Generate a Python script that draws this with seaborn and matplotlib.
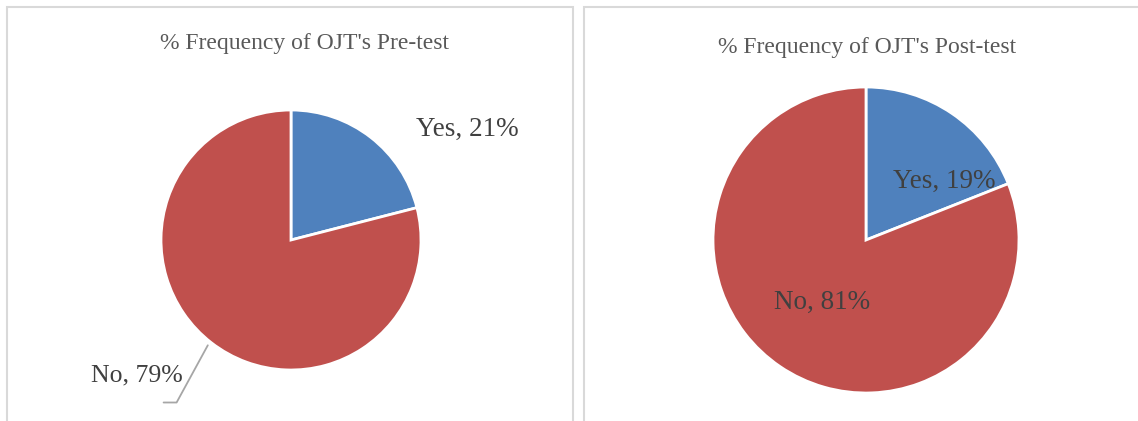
import matplotlib.pyplot as plt
import matplotlib.patches as mpatches
import seaborn as sns

categories = ["Yes", "No"]
pre_test = [21, 79]
post_test = [19, 81]
titles = ["% Frequency of OJT's Pre-test", "% Frequency of OJT's Post-test"]
colors = ["#4F81BD", "#C0504D"]

sns.set_theme(style="white")
plt.rcParams['font.family'] = ['Liberation Serif', 'DejaVu Serif']

W, H = 1138, 421
fig = plt.figure(figsize=(W / 100, H / 100), dpi=100)


def px_box(left, top, width, height):
    return [left / W, (H - top - height) / H, width / W, height / H]


# panel frames
for x0, x1 in [(7, 573), (584, 1150)]:
    fig.patches.append(mpatches.Rectangle((x0 / W, -0.1), (x1 - x0) / W, (H - 7) / H + 0.1,
                                          transform=fig.transFigure, fill=False,
                                          edgecolor="#D9D9D9", linewidth=1.5))

txt = "#404040"
lab_size = 19.5

# pre-test pie
ax1 = fig.add_axes(px_box(161, 110, 260, 260))
ax1.pie(pre_test, colors=colors, startangle=90, counterclock=False,
        wedgeprops=dict(edgecolor="white", linewidth=2))
ax1.set_xlim(-1, 1)
ax1.set_ylim(-1, 1)
ax1.set_aspect("equal")
ax1.axis("off")
ax1.text(1.36, 0.85, f"{categories[0]}, {pre_test[0]}%", ha="center", va="center",
         fontsize=lab_size, color=txt)
ax1.text(-0.83, -1.04, f"{categories[1]}, {pre_test[1]}%", ha="right", va="center",
         fontsize=18.5, color=txt)
ax1.plot([-0.64, -0.88, -0.98], [-0.81, -1.25, -1.25], color="#A6A6A6", lw=1.3, clip_on=False)

# post-test pie
ax2 = fig.add_axes(px_box(713, 87, 306, 306))
ax2.pie(post_test, colors=colors, startangle=90, counterclock=False,
        wedgeprops=dict(edgecolor="white", linewidth=2))
ax2.set_xlim(-1, 1)
ax2.set_ylim(-1, 1)
ax2.set_aspect("equal")
ax2.axis("off")
ax2.text(0.51, 0.38, f"{categories[0]}, {post_test[0]}%", ha="center", va="center",
         fontsize=lab_size, color=txt)
ax2.text(-0.29, -0.41, f"{categories[1]}, {post_test[1]}%", ha="center", va="center",
         fontsize=lab_size, color=txt)

fig.text(304 / W, 1 - 43 / H, titles[0], ha="center", va="center", fontsize=17, color="#595959")
fig.text(867 / W, 1 - 47 / H, titles[1], ha="center", va="center", fontsize=17, color="#595959")

fig.savefig("out.png", dpi=100)
